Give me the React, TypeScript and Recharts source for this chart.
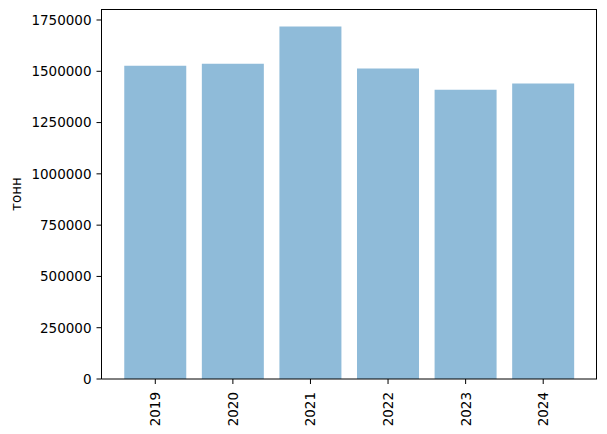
import { BarChart, Bar, XAxis, YAxis, Label } from 'recharts';

const years = ['2019', '2020', '2021', '2022', '2023', '2024'];
const tonnes = [1527000, 1537000, 1717700, 1513000, 1410000, 1440000];
const yTicks = [0, 250000, 500000, 750000, 1000000, 1250000, 1500000, 1750000];

const FONT = '"DejaVu Sans", sans-serif';
const BAR_COLOR = '#8fbbd9';

const data = years.map((year, i) => ({ year, value: tonnes[i] }));

function YearTick(props: any) {
  const { x, y, payload } = props;
  return (
    <text
      x={0}
      y={0}
      dy="0.36em"
      textAnchor="end"
      fontSize={13.5}
      fontFamily={FONT}
      fill="#000"
      transform={`translate(${x},${y + 6}) rotate(-90)`}
    >
      {payload.value}
    </text>
  );
}

export default function App() {
  return (
    <div style={{ position: 'absolute', left: 0, top: 0, width: 607, height: 434, background: '#fff' }}>
      <BarChart
        width={607}
        height={434}
        data={data}
        margin={{ top: 9, right: 10, left: 0, bottom: 10 }}
        barCategoryGap="10%"
      >
        <XAxis
          dataKey="year"
          height={45}
          padding={{ left: 15, right: 15 }}
          stroke="#000"
          tickSize={5}
          tickMargin={2}
          tick={<YearTick />}
          interval={0}
        />
        <YAxis
          width={101.5}
          domain={[0, 1803600]}
          ticks={yTicks}
          allowDataOverflow
          stroke="#000"
          tickSize={5}
          tickMargin={5}
          tick={{ fontSize: 13.5, fontFamily: FONT, fill: '#000' }}
        >
          <Label
            content={() => (
              <text
                x={0}
                y={0}
                dy="0.36em"
                textAnchor="middle"
                fontSize={13.5}
                fontFamily={FONT}
                fill="#000"
                transform="translate(16,194) rotate(-90)"
              >
                тонн
              </text>
            )}
          />
        </YAxis>
        <Bar dataKey="value" fill={BAR_COLOR} isAnimationActive={false} />
      </BarChart>
      {/* top and right spines of the matplotlib-style frame */}
      <div
        style={{
          position: 'absolute',
          left: 101,
          top: 9,
          width: 496,
          height: 370,
          boxSizing: 'border-box',
          borderTop: '1px solid #000',
          borderRight: '1px solid #000',
          pointerEvents: 'none',
        }}
      />
    </div>
  );
}
